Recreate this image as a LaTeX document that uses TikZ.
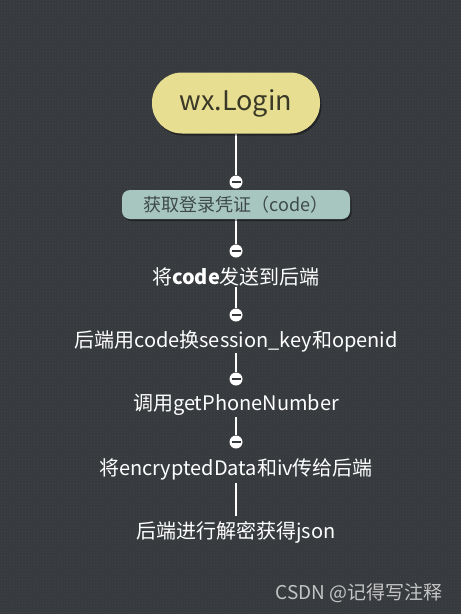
\documentclass[tikz,border=0pt]{standalone}
\usepackage{fontspec}
\setmainfont{Noto Sans CJK SC}
\usetikzlibrary{shadows,patterns}
\pgfdeclarelayer{bglayer}
\pgfdeclarelayer{connlayer}
\pgfsetlayers{bglayer,connlayer,main}
\definecolor{bgc}{HTML}{373A3D}
\definecolor{dotc}{HTML}{42464A}
\definecolor{pillc}{HTML}{E7DE92}
\definecolor{pilltext}{HTML}{3A3826}
\definecolor{boxc}{HTML}{A8C6C0}
\definecolor{boxtext}{HTML}{3E4A48}
\definecolor{wm}{HTML}{C4C4C4}
\tikzset{
  pill/.style={fill=pillc, rounded corners=30pt, minimum width=168pt, minimum height=61pt, inner sep=0pt,
    font=\fontsize{27}{30}\selectfont, text=pilltext,
    drop shadow={shadow xshift=1.5pt, shadow yshift=-2pt, opacity=0.4, fill=black}},
  cbox/.style={fill=boxc, rounded corners=8pt, minimum width=228pt, minimum height=29pt, inner sep=0pt,
    font=\fontsize{18}{20}\selectfont, text=boxtext,
    drop shadow={shadow xshift=1.5pt, shadow yshift=-2pt, opacity=0.4, fill=black}},
  knob/.style={circle, fill=white, minimum size=13pt, inner sep=0pt,
    path picture={\draw[line width=1.6pt, bgc] ([xshift=-4.5pt]path picture bounding box.center) -- ([xshift=4.5pt]path picture bounding box.center);}},
  stepnode/.style={text=white, inner sep=1pt, font=\fontsize{20}{22}\selectfont},
  conn/.style={draw=white, line width=2.5pt},
}
\begin{document}
\begin{tikzpicture}[x=1pt, y=-1pt]
\begin{pgfonlayer}{bglayer}
\fill[bgc] (0,0) rectangle (461,614);
\fill[pattern=crosshatch dots, pattern color=dotc] (0,0) rectangle (461,614);
\end{pgfonlayer}
\useasboundingbox (0,0) rectangle (461,614);

\node[pill] (login) at (236,103) {wx.Login};
\node[knob] (c1) at (236,182) {};
\node[cbox] (code) at (236,204.5) {获取登录凭证（code）};
\node[knob] (c2) at (236,251) {};
\node[stepnode] (t2) at (236,277) {将\textbf{code}发送到后端};
\node[knob] (c3) at (236,315) {};
\node[stepnode] (t3) at (236,341) {后端用code换session\_key和openid};
\node[knob] (c4) at (236,379) {};
\node[stepnode] (t4) at (236,405) {调用getPhoneNumber};
\node[knob] (c5) at (236,442) {};
\node[stepnode] (t5) at (236,469) {将encryptedData和iv传给后端};
\node[stepnode] (t6) at (236,532) {后端进行解密获得json};

\node[text=wm, font=\fontsize{19}{22}\selectfont] (wmk) at (359,593) {CSDN @记得写注释};

\begin{pgfonlayer}{connlayer}
\draw[conn] (login) -- (c1);
\draw[conn] (code) -- (c2);
\draw[conn] (t2) -- (c3);
\draw[conn] (t3) -- (c4);
\draw[conn] (t4) -- (c5);
\draw[conn, shorten <=2pt, shorten >=4pt] (t5) -- (t6);
\end{pgfonlayer}
\end{tikzpicture}
\end{document}
